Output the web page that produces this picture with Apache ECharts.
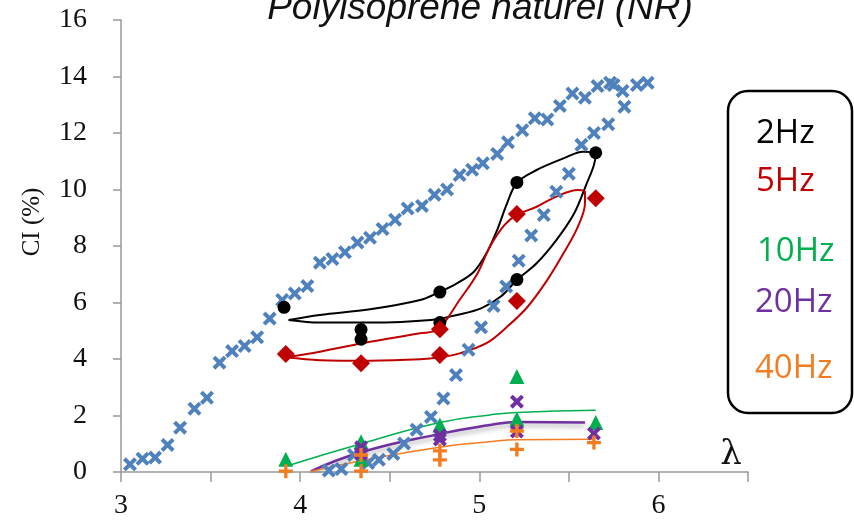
<!DOCTYPE html>
<html>
<head>
<meta charset="utf-8">
<script src="https://cdn.jsdelivr.net/npm/echarts@6/dist/echarts.min.js"></script>
<style>html,body{margin:0;padding:0;background:#fff;}#c{width:854px;height:525px;}</style>
</head>
<body>
<div id="c"></div>
<script>
// ---- data ----
var titleText = 'Polyisoprene naturel (NR)';
var yAxisTitle = 'CI (%)';
var xAxisTitle = 'λ';
var legendLabels = ['2Hz', '5Hz', '10Hz', '20Hz', '40Hz'];
var xTickLabels = [3, 4, 5, 6];

var blueCross = [
  [3.05,0.27],[3.12,0.47],[3.19,0.51],[3.26,0.96],[3.33,1.57],[3.41,2.24],[3.48,2.63],[3.55,3.87],
  [3.62,4.28],[3.69,4.46],[3.76,4.77],[3.83,5.43],[3.90,6.09],[3.97,6.32],[4.04,6.58],[4.11,7.41],
  [4.18,7.54],[4.25,7.78],[4.32,8.12],[4.39,8.29],[4.46,8.60],[4.53,8.93],[4.60,9.33],[4.68,9.42],
  [4.75,9.81],[4.82,10.00],[4.89,10.51],[4.96,10.70],[5.02,10.93],[5.10,11.26],[5.16,11.67],[5.24,12.10],
  [5.31,12.52],[5.38,12.48],[5.45,12.96],[5.52,13.40],[5.59,13.25],[5.66,13.66],[5.73,13.78],[5.75,13.70],
  [5.80,13.49],[5.88,13.70],[5.94,13.78],
  [5.81,12.93],[5.72,12.31],[5.64,12.00],[5.57,11.58],[5.50,10.56],[5.43,9.92],[5.36,9.10],[5.29,8.37],
  [5.22,7.48],[5.15,6.57],[5.08,5.88],[5.01,5.12],[4.94,4.33],[4.87,3.43],[4.80,2.60],[4.73,1.95],
  [4.65,1.50],[4.58,1.01],[4.52,0.64],[4.44,0.43],[4.38,0.32],[4.30,0.60],[4.23,0.11],[4.16,0.05]
];

var pts2Hz = [[3.91,5.83],[4.34,5.04],[4.34,4.70],[4.78,6.37],[4.78,5.29],[5.21,10.25],[5.21,6.81],[5.65,11.30]];
var fit2Hz = [[3.935,5.38],[4.11,5.56],[4.39,5.76],[4.67,6.09],[4.77,6.35],[4.875,6.68],[4.97,7.09],[5.04,7.74],
  [5.10,8.57],[5.155,9.51],[5.21,10.24],[5.32,10.69],[5.47,11.10],[5.58,11.34],[5.65,11.28],[5.64,10.87],
  [5.60,10.22],[5.53,9.16],[5.43,8.21],[5.32,7.39],[5.21,6.80],[5.12,6.21],[5.01,5.79],[4.875,5.56],
  [4.73,5.38],[4.39,5.29],[4.11,5.29],[3.935,5.38]];

var pts5Hz = [[3.92,4.18],[4.34,3.85],[4.78,5.05],[4.78,4.14],[5.21,9.13],[5.21,6.05],[5.65,9.69]];
var fit5Hz = [[3.92,4.06],[4.11,4.26],[4.39,4.61],[4.67,4.91],[4.77,5.05],[4.89,6.09],[4.99,7.03],[5.06,7.98],
  [5.14,8.74],[5.21,9.10],[5.32,9.39],[5.43,9.75],[5.55,9.98],[5.59,9.92],[5.59,9.51],[5.55,8.68],
  [5.47,7.74],[5.38,6.80],[5.27,5.85],[5.155,5.14],[5.04,4.56],[4.89,4.20],[4.78,4.06],[4.67,3.99],
  [4.39,3.94],[4.11,3.96],[3.92,4.06]];

var pts10Hz = [[3.92,0.45],[4.34,1.07],[4.34,0.45],[4.78,1.66],[5.21,3.38],[5.21,1.88],[5.65,1.75]];
var fit10Hz = [[3.93,0.22],[4.34,1.00],[4.78,1.75],[5.06,2.02],[5.21,2.11],[5.65,2.19]];

var pts20Hz = [[4.34,0.88],[4.34,0.65],[4.78,1.30],[4.78,1.15],[5.21,2.49],[5.21,1.43],[5.64,1.36]];
var fit20Hz = [[4.06,0.02],[4.34,0.70],[4.78,1.35],[5.06,1.66],[5.21,1.77],[5.59,1.75]];

var pts40Hz = [[3.92,0.03],[4.34,0.03],[4.34,0.60],[4.78,0.75],[4.78,0.43],[5.21,1.45],[5.21,0.80],[5.64,1.04]];
var fit40Hz = [[4.06,0.02],[4.34,0.40],[4.78,0.88],[5.06,1.07],[5.21,1.14],[5.64,1.16]];

// ---- styles ----
var C = {blue:'#4f81bd', k:'#000000', red:'#c00000', green:'#00b050', purple:'#7030a0', orange:'#f47c20'};
var X_PATH = 'path://M0,2L2,0L5,3L8,0L10,2L7,5L10,8L8,10L5,7L2,10L0,8L3,5Z';
var PLUS_PATH = 'path://M3.8,0H6.2V3.8H10V6.2H6.2V10H3.8V6.2H0V3.8H3.8Z';

function fit(data, color, width, smooth, extra) {
  var s = {type:'line', data:data, smooth:smooth, symbol:'none', silent:true,
    lineStyle:{color:color, width:width}, z:3};
  if (extra) for (var k in extra) s.lineStyle[k] = extra[k];
  return s;
}
function pts(data, color, symbol, size) {
  return {type:'scatter', data:data, symbol:symbol, symbolSize:size,
    itemStyle:{color:color, opacity:1}, z:5, clip:false};
}

var chart = echarts.init(document.getElementById('c'), null, {renderer:'canvas'});
var legendColors = [C.k, C.red, C.green, C.purple, C.orange];
var legendY = [134, 182, 252, 303, 369];
var legendX = [756, 756, 757, 755, 755];
var graphics = [
  {type:'text', x:480, y:9, style:{text:titleText, fill:'#111', font:'italic 37px "Liberation Sans Narrow","Liberation Sans",sans-serif', align:'center', verticalAlign:'middle'}},
  {type:'text', x:32, y:222, rotation:Math.PI/2, style:{text:yAxisTitle, fill:'#111', font:'25px "Liberation Serif",serif', align:'center', verticalAlign:'middle'}},
  {type:'text', x:731, y:455, style:{text:xAxisTitle, fill:'#111', font:'34px "DejaVu Serif",serif', align:'center', verticalAlign:'middle'}},
  {type:'rect', shape:{x:728, y:91, width:124, height:322, r:20}, style:{fill:'#fff', stroke:'#000', lineWidth:2.5}}
];
legendLabels.forEach(function (t, i) {
  graphics.push({type:'text', x:legendX[i], y:legendY[i], style:{text:t, fill:legendColors[i], font:'33px "Open Sans",sans-serif', align:'left', verticalAlign:'middle'}});
});

chart.setOption({
  animation:false,
  backgroundColor:'#fff',
  grid:{left:121, right:106, top:20, bottom:53, containLabel:false},
  xAxis:{type:'value', min:3, max:6.5, interval:0.5,
    axisLine:{show:true, onZero:false, lineStyle:{color:'#999', width:1.5}},
    axisTick:{show:true, length:10, lineStyle:{color:'#999', width:1.5}},
    splitLine:{show:false},
    axisLabel:{color:'#111', fontSize:28, fontFamily:'"Liberation Serif",serif', margin:20,
      formatter:function (v) { return xTickLabels.indexOf(v) >= 0 ? String(v) : ''; }}},
  yAxis:{type:'value', min:0, max:16, interval:2,
    axisLine:{show:true, lineStyle:{color:'#999', width:1.5}},
    axisTick:{show:true, length:8, lineStyle:{color:'#999', width:1.5}},
    splitLine:{show:false},
    axisLabel:{color:'#111', fontSize:28, fontFamily:'"Liberation Serif",serif', margin:34}},
  graphic:{elements:graphics},
  series:[
    pts(blueCross, C.blue, X_PATH, 14),
    fit(fit2Hz, C.k, 2, 0.35),
    fit(fit5Hz, C.red, 2, 0.35),
    fit(fit10Hz, C.green, 1.5, 0.5),
    fit(fit20Hz, C.purple, 2.5, 0.5, {shadowColor:'rgba(0,0,0,0.35)', shadowBlur:5, shadowOffsetY:3}),
    fit(fit40Hz, C.orange, 1.5, 0.5),
    pts(pts2Hz, C.k, 'circle', 13),
    pts(pts5Hz, C.red, 'diamond', 18),
    pts(pts10Hz, C.green, 'triangle', 15),
    pts(pts20Hz, C.purple, X_PATH, 14),
    pts(pts40Hz, C.orange, PLUS_PATH, 14)
  ]
});
</script>
</body>
</html>
